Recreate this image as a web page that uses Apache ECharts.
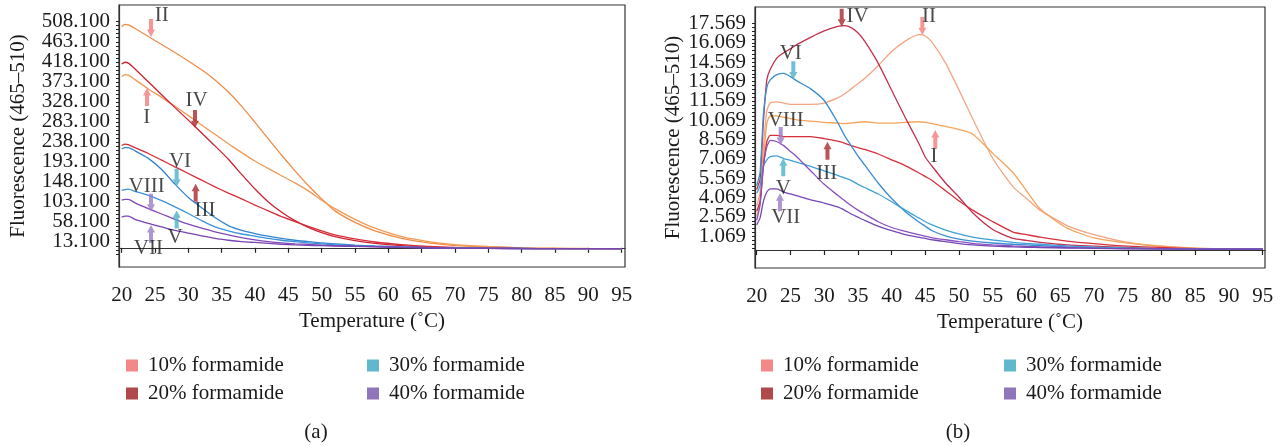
<!DOCTYPE html>
<html>
<head>
<meta charset="utf-8">
<script src="https://cdn.jsdelivr.net/npm/echarts@6/dist/echarts.min.js"></script>
<style>
html, body { margin: 0; padding: 0; background: #fff; }
#main { width: 1280px; height: 446px; }
</style>
</head>
<body>
<div id="main"></div>
<script>
// ---- panel (a) ----
var tempA = [20, 20.5, 21, 22, 24, 26, 28, 30, 32, 34, 36, 38, 40, 42, 44, 46, 48, 50, 52, 55, 58, 62, 66, 70, 75, 80, 85, 90, 95];
var a_I    = [385, 389, 388, 378, 357, 338, 318, 297, 276, 255, 234, 214, 195, 178, 162, 146, 128, 107, 88, 64, 44, 25, 14, 7, 3, 0, -1, -1.5, -1.75];
var a_II   = [497, 502, 501, 493, 475, 457, 439, 420, 400, 377, 350, 318, 282, 245, 208, 173, 140, 110, 83, 57, 38, 21, 11, 5, 2, -0.5, -1.5, -1.75, -1.75];
var a_III  = [230, 233, 232, 225, 212, 197, 182, 167, 152, 137, 123, 110, 96, 83, 70, 59, 48, 38, 29, 20, 13, 7, 3, 1, -0.5, -1.5, -1.75, -1.75, -1.75];
var a_IV   = [413, 417, 415, 402, 373, 344, 315, 287, 258, 229, 199, 165, 132, 103, 80, 61, 46, 34, 25, 16, 10, 5, 2, 0, -1, -1.5, -1.75, -1.75, -1.75];
var a_V    = [129, 131, 132, 127, 118, 106, 92, 77, 61, 47, 38, 31, 26, 21, 17, 14, 11, 9, 7, 5, 3, 1.5, 0.5, -0.5, -1.2, -1.6, -1.75, -1.75, -1.75];
var a_VI   = [222, 225, 225, 218, 201, 176, 143, 113, 90, 68, 50, 39, 32, 26, 21, 17, 14, 11, 9, 6, 4, 2, 0.5, -0.5, -1.2, -1.6, -1.75, -1.75, -1.75];
var a_VII  = [69, 71, 71, 64, 55, 47, 39, 33, 27, 21, 17, 14, 12, 10, 8, 6.5, 5.5, 4.8, 4, 3, 2, 1, 0, -0.8, -1.3, -1.7, -1.75, -1.75, -1.75];
var a_VIII = [107, 109, 109, 101, 88, 76, 64, 53, 44, 36, 29, 23, 18, 14, 11, 9, 7.5, 6, 5, 3.5, 2.5, 1, 0, -0.8, -1.3, -1.7, -1.75, -1.75, -1.75];

// ---- panel (b) ----
var tempB = [20, 20.5, 21, 21.5, 22, 23, 24, 25, 26, 28, 30, 32, 33, 34, 35, 36, 38, 40, 42, 44, 45, 46, 48, 50, 52, 55, 58, 60, 62, 66, 70, 75, 80, 85, 90, 95];
var b_I    = [2.6, 3.6, 7, 9.8, 10.4, 10.4, 10.3, 10.2, 10.1, 10.0, 9.9, 9.85, 9.8, 9.85, 9.9, 9.95, 9.85, 9.85, 9.9, 9.95, 9.9, 9.8, 9.6, 9.35, 9.0, 7.5, 6.0, 4.6, 3.2, 1.7, 0.95, 0.55, 0.3, 0.15, 0.1, 0.08];
var b_II   = [3.4, 4.5, 8, 10.8, 11.4, 11.5, 11.4, 11.3, 11.3, 11.3, 11.4, 11.8, 12.1, 12.5, 12.9, 13.3, 14.3, 15.4, 16.2, 16.7, 16.6, 16.1, 14.5, 12.4, 10.2, 7.1, 4.9, 4.0, 3.1, 1.9, 1.2, 0.6, 0.3, 0.15, 0.1, 0.08];
var b_III  = [3.0, 3.8, 6.5, 8.4, 8.9, 8.9, 8.8, 8.8, 8.8, 8.8, 8.65, 8.45, 8.3, 8.1, 7.95, 7.8, 7.45, 7.0, 6.55, 6.0, 5.7, 5.4, 4.6, 3.8, 3.1, 2.2, 1.4, 1.2, 1.0, 0.7, 0.5, 0.3, 0.2, 0.12, 0.1, 0.08];
var b_IV   = [4.7, 5.5, 10, 13.2, 14.0, 14.9, 15.3, 15.6, 15.95, 16.5, 17.0, 17.35, 17.4, 17.25, 16.85, 16.2, 14.5, 12.4, 10.3, 8.3, 7.2, 6.5, 5.2, 4.1, 2.9, 1.6, 0.9, 0.75, 0.6, 0.4, 0.3, 0.2, 0.12, 0.1, 0.09, 0.08];
var b_V    = [4.4, 5.0, 6.5, 7.0, 7.25, 7.3, 7.1, 6.95, 6.8, 6.5, 6.15, 5.8, 5.6, 5.4, 5.1, 4.85, 4.35, 3.75, 3.1, 2.5, 2.2, 1.95, 1.55, 1.25, 1.0, 0.78, 0.6, 0.52, 0.45, 0.32, 0.22, 0.15, 0.1, 0.09, 0.08, 0.08];
var b_VI   = [5.0, 6.0, 10.5, 12.6, 13.2, 13.6, 13.7, 13.45, 13.1, 12.5, 11.6, 9.9, 8.9, 8.1, 7.3, 6.6, 5.2, 4.0, 3.0, 2.2, 1.85, 1.5, 1.1, 0.85, 0.7, 0.55, 0.45, 0.4, 0.35, 0.25, 0.2, 0.15, 0.1, 0.09, 0.08, 0.08];
var b_VII  = [1.95, 2.5, 3.8, 4.5, 4.75, 4.75, 4.5, 4.35, 4.2, 3.9, 3.65, 3.35, 3.1, 2.8, 2.55, 2.3, 1.85, 1.5, 1.2, 1.0, 0.9, 0.8, 0.65, 0.5, 0.4, 0.3, 0.25, 0.22, 0.2, 0.16, 0.13, 0.1, 0.09, 0.08, 0.08, 0.08];
var b_VIII = [2.3, 3.5, 6.5, 8.0, 8.5, 8.4, 8.1, 7.65, 7.2, 6.15, 5.1, 4.25, 3.85, 3.45, 3.1, 2.8, 2.2, 1.75, 1.45, 1.2, 1.07, 0.95, 0.8, 0.65, 0.52, 0.4, 0.32, 0.28, 0.25, 0.2, 0.15, 0.12, 0.1, 0.09, 0.08, 0.08];

// tick labels
var xTicks = [20, 25, 30, 35, 40, 45, 50, 55, 60, 65, 70, 75, 80, 85, 90, 95];
var yLabelsA = [13.1, 58.1, 103.1, 148.1, 193.1, 238.1, 283.1, 328.1, 373.1, 418.1, 463.1, 508.1];
var yLabelsB = [1.069, 2.569, 4.069, 5.569, 7.069, 8.569, 10.069, 11.569, 13.069, 14.569, 16.069, 17.569];

var groups = ['10% formamide', '20% formamide', '30% formamide', '40% formamide'];

// annotations: [T, value, direction, group]  /  [T, value, text]
var arrowsA = [[24.4, 474, 'down', 0], [23.8, 359, 'up', 0], [31.0, 269, 'down', 1], [31.1, 144, 'up', 1],
               [28.25, 137, 'down', 2], [28.25, 84, 'up', 2], [24.4, 81, 'down', 3], [24.4, 51, 'up', 3]];
var labelsA = [[26.0, 523, 'II'], [23.75, 294, 'I'], [31.25, 332, 'IV'], [32.5, 84, 'III'],
               [28.75, 193, 'VI'], [28.0, 24, 'V'], [23.75, 137, 'VIII'], [24.0, -2, 'VII']];
var arrowsB = [[32.6, 17.32, 'down', 1], [44.55, 16.67, 'down', 0], [25.43, 13.24, 'down', 2], [23.56, 8.15, 'down', 3],
               [46.47, 9.31, 'up', 0], [30.49, 8.40, 'up', 1], [23.94, 7.12, 'up', 2], [23.45, 4.40, 'up', 3]];
var labelsB = [[34.94, 18.09, 'IV'], [45.54, 18.09, 'II'], [25.05, 15.25, 'VI'], [24.31, 10.08, 'VIII'],
               [46.28, 7.24, 'I'], [30.37, 5.95, 'III'], [23.94, 4.79, 'V'], [24.31, 2.53, 'VII']];

var FONT = 'Liberation Serif';
var FS = 21;
var legendColors = ['#f06a6a', '#9c1c1e', '#3aa5be', '#7453a8'];
var arrowColors = ['#f47c7c', '#a62a2e', '#4ab2ca', '#9a7cc4'];

function pairs(t, v) {
  return t.map(function (x, i) { return [x, v[i]]; });
}

function dense(labels, step, below) {
  var out = [];
  for (var v = labels[0] - below; v <= labels[labels.length - 1] + 1e-9; v += step) {
    out.push(+v.toFixed(4));
  }
  return out;
}

// every other label, so two stacked axes can carry them without the overlap check dropping any
function alternate(labels, start) {
  return labels.filter(function (v, i) { return i % 2 === start; });
}

var curves = [
  // [name, temps, values, color, panel]
  ['a-II', tempA, a_II, '#f08c48', 0],
  ['a-I', tempA, a_I, '#f29a55', 0],
  ['a-IV', tempA, a_IV, '#cc2234', 0],
  ['a-III', tempA, a_III, '#d62d38', 0],
  ['a-VI', tempA, a_VI, '#3584d0', 0],
  ['a-V', tempA, a_V, '#3b92d8', 0],
  ['a-VIII', tempA, a_VIII, '#8348b8', 0],
  ['a-VII', tempA, a_VII, '#7744b0', 0],
  ['b-II', tempB, b_II, '#f3a584', 1],
  ['b-I', tempB, b_I, '#f4a45c', 1],
  ['b-IV', tempB, b_IV, '#c2304e', 1],
  ['b-III', tempB, b_III, '#d6303c', 1],
  ['b-VI', tempB, b_VI, '#3c8cd0', 1],
  ['b-V', tempB, b_V, '#3ea0d8', 1],
  ['b-VIII', tempB, b_VIII, '#8a50c0', 1],
  ['b-VII', tempB, b_VII, '#7646b4', 1]
];

var series = curves.map(function (c) {
  return {
    name: c[0], type: 'line', xAxisIndex: c[4], yAxisIndex: c[4],
    data: pairs(c[1], c[2]), showSymbol: false, smooth: 0.2,
    lineStyle: { color: c[3], width: 1.3 }, itemStyle: { color: c[3] },
    silent: true
  };
});

var arrowPath = 'path://M2.5,0 L7.5,0 L7.5,10 L10,10 L5,17 L0,10 L2.5,10 Z';

function arrowSeries(list, idx) {
  return {
    type: 'scatter', xAxisIndex: idx, yAxisIndex: idx, silent: true, z: 5,
    symbol: arrowPath, symbolSize: [8, 18],
    data: list.map(function (a) {
      var up = a[2] === 'up';
      return {
        value: [a[0], a[1]],
        symbolRotate: up ? 180 : 0,
        symbolOffset: [0, up ? 9 : -9],
        itemStyle: { color: arrowColors[a[3]] }
      };
    })
  };
}

function labelSeries(list, idx) {
  return {
    type: 'scatter', xAxisIndex: idx, yAxisIndex: idx, silent: true, z: 6,
    symbolSize: 1, itemStyle: { color: 'rgba(0,0,0,0)' },
    data: list.map(function (l) {
      return {
        value: [l[0], l[1]],
        label: { show: true, position: 'inside', formatter: l[2],
                 fontFamily: FONT, fontSize: FS, color: '#1a1a1a' }
      };
    })
  };
}

series.push(arrowSeries(arrowsA, 0), labelSeries(labelsA, 0), arrowSeries(arrowsB, 1), labelSeries(labelsB, 1));

// empty series only to drive the legends
groups.forEach(function (g, i) {
  series.push({ name: g, type: 'scatter', xAxisIndex: 0, yAxisIndex: 0, data: [], itemStyle: { color: legendColors[i] } });
});

function xAxis(idx, min, max) {
  return {
    gridIndex: idx, type: 'value', min: min, max: max,
    name: 'Temperature (˚C)', nameLocation: 'middle', nameGap: 44,
    nameTextStyle: { fontFamily: FONT, fontSize: FS, color: '#1a1a1a' },
    axisLine: { show: true, lineStyle: { color: '#333', width: 1.2 } },
    axisTick: { show: true, length: 5, customValues: xTicks, lineStyle: { color: '#222', width: 1.2 } },
    axisLabel: { customValues: xTicks, interval: 0, margin: 18, fontFamily: FONT, fontSize: FS, color: '#1a1a1a',
                 showMinLabel: true, showMaxLabel: true },
    splitLine: { show: false }
  };
}

function yLabel(values) {
  return {
    customValues: values, margin: 9, fontFamily: FONT, fontSize: FS, color: '#1a1a1a',
    showMinLabel: true, showMaxLabel: true,
    formatter: function (v) { return v.toFixed(3); }
  };
}

function yAxis(idx, min, max, labels, step, gap) {
  return {
    gridIndex: idx, type: 'value', min: min, max: max,
    name: 'Fluorescence (465–510)', nameLocation: 'middle', nameGap: gap,
    nameTextStyle: { fontFamily: FONT, fontSize: FS, color: '#1a1a1a' },
    axisLine: { show: true, lineStyle: { color: '#333', width: 1.2 } },
    axisTick: { show: true, length: 3, customValues: dense(labels, step, step * 3), lineStyle: { color: '#222', width: 1 } },
    axisLabel: yLabel(alternate(labels, 0)),
    splitLine: { show: false }
  };
}

function yAxisAlt(idx, min, max, labels) {
  return {
    gridIndex: idx, type: 'value', min: min, max: max, position: 'left',
    axisLine: { show: false }, axisTick: { show: false },
    axisLabel: yLabel(alternate(labels, 1)),
    splitLine: { show: false }
  };
}

function legend(left, names, colors) {
  return {
    left: left, top: 350, orient: 'vertical', icon: 'rect', itemWidth: 12, itemHeight: 12, itemGap: 7,
    selectedMode: false,
    data: names.map(function (n, i) { return { name: n, itemStyle: { color: colors[i] } }; }),
    textStyle: { fontFamily: FONT, fontSize: FS, color: '#1a1a1a', padding: [0, 0, 0, 5] }
  };
}

var chart = echarts.init(document.getElementById('main'), null, { renderer: 'canvas' });
chart.setOption({
  animation: false,
  backgroundColor: '#fff',
  grid: [
    { left: 119, top: 5, width: 506, height: 262, show: true, borderColor: '#333', borderWidth: 1.2, outerBoundsMode: 'none' },
    { left: 755, top: 7, width: 510, height: 261, show: true, borderColor: '#333', borderWidth: 1.2, outerBoundsMode: 'none' }
  ],
  xAxis: [xAxis(0, 19.6, 95.5), xAxis(1, 19.75, 95.34)],
  yAxis: [
    yAxis(0, -43.15, 545.7, yLabelsA, 9, 90),
    yAxis(1, -1.39, 18.85, yLabelsB, 0.3, 70),
    yAxisAlt(0, -43.15, 545.7, yLabelsA),
    yAxisAlt(1, -1.39, 18.85, yLabelsB)
  ],
  legend: [
    legend(121, [groups[0], groups[1]], [legendColors[0], legendColors[1]]),
    legend(362, [groups[2], groups[3]], [legendColors[2], legendColors[3]]),
    legend(756, [groups[0], groups[1]], [legendColors[0], legendColors[1]]),
    legend(999, [groups[2], groups[3]], [legendColors[2], legendColors[3]])
  ],
  graphic: [
    { type: 'text', x: 316, y: 432, style: { text: '(a)', font: FS + 'px "Liberation Serif"', fill: '#1a1a1a', textAlign: 'center', textVerticalAlign: 'middle' } },
    { type: 'text', x: 958, y: 432, style: { text: '(b)', font: FS + 'px "Liberation Serif"', fill: '#1a1a1a', textAlign: 'center', textVerticalAlign: 'middle' } }
  ],
  series: series
});
</script>
</body>
</html>
